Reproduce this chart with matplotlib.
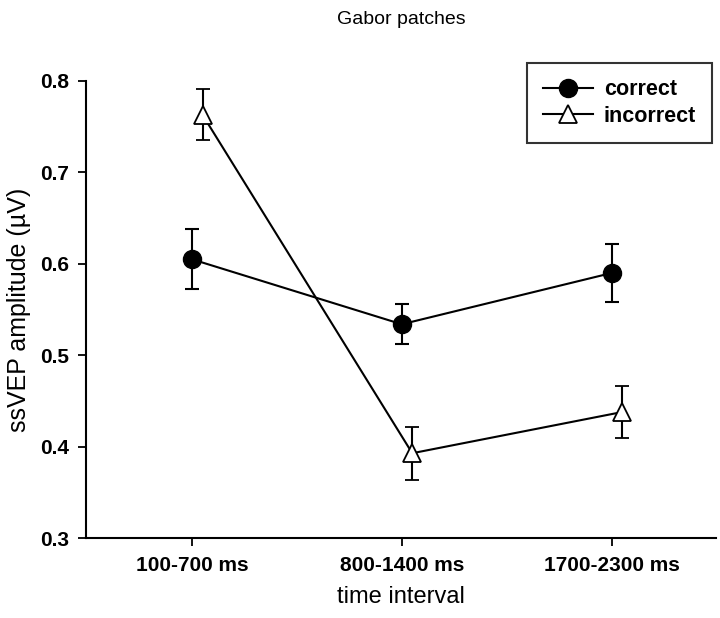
import matplotlib
matplotlib.use("Agg")
import matplotlib.pyplot as plt
from matplotlib.lines import Line2D
import numpy as np

plt.rcParams['font.family'] = ['Liberation Sans', 'DejaVu Sans']

intervals = ['100-700 ms', '800-1400 ms', '1700-2300 ms']
correct = [0.605, 0.534, 0.590]
correct_err = [0.033, 0.022, 0.032]
incorrect = [0.763, 0.393, 0.438]
incorrect_err = [0.028, 0.029, 0.028]

x = np.arange(len(intervals))

fig = plt.figure(figsize=(7.2, 6.18), dpi=100)
ax = fig.add_axes([0.119, 0.129, 0.876, 0.740])

ax.errorbar(x, correct, yerr=correct_err, color='black', marker='o',
            markersize=13, markerfacecolor='black', lw=1.5, elinewidth=1.5,
            capsize=5, capthick=1.5, zorder=3)
ax.errorbar(x + 0.05, incorrect, yerr=incorrect_err, color='black', marker='^',
            markersize=13, markerfacecolor='white', markeredgewidth=1.3, lw=1.5,
            elinewidth=1.5, capsize=5, capthick=1.5, zorder=3)

ax.set_xlim(-0.507, 2.5)
ax.set_ylim(0.3, 0.8)
ax.set_xticks(x)
ax.set_xticklabels(intervals, fontweight='bold', fontsize=15)
ax.set_yticks([0.3, 0.4, 0.5, 0.6, 0.7, 0.8])
ax.set_yticklabels(['0.3', '0.4', '0.5', '0.6', '0.7', '0.8'], fontweight='bold', fontsize=15)
ax.tick_params(direction='out', length=6, width=1.3)
ax.tick_params(axis='y', pad=6)
ax.tick_params(axis='x', pad=7)
ax.spines['top'].set_visible(False)
ax.spines['right'].set_visible(False)
for s in ['left', 'bottom']:
    ax.spines[s].set_linewidth(1.5)

ax.set_xlabel('time interval', fontsize=17, labelpad=8)
ax.set_ylabel('ssVEP amplitude (µV)', fontsize=18)
ax.yaxis.set_label_coords(-0.087, 0.5)
fig.text(0.558, 0.968, 'Gabor patches', ha='center', va='center', fontsize=14)

handles = [
    Line2D([], [], color='black', marker='o', markersize=13, markerfacecolor='black', lw=1.5),
    Line2D([], [], color='black', marker='^', markersize=13, markerfacecolor='white',
           markeredgewidth=1.3, lw=1.5),
]
leg = fig.legend(handles, ['correct', 'incorrect'], loc='upper right',
                 bbox_to_anchor=(0.989, 0.898), frameon=True, fancybox=False,
                 edgecolor='black', prop={'weight': 'bold', 'size': 15.5},
                 handlelength=2.3, handletextpad=0.5, borderpad=0.75,
                 labelspacing=0.25, borderaxespad=0)
leg.get_frame().set_linewidth(1.5)

fig.savefig('out.png', dpi=100)
